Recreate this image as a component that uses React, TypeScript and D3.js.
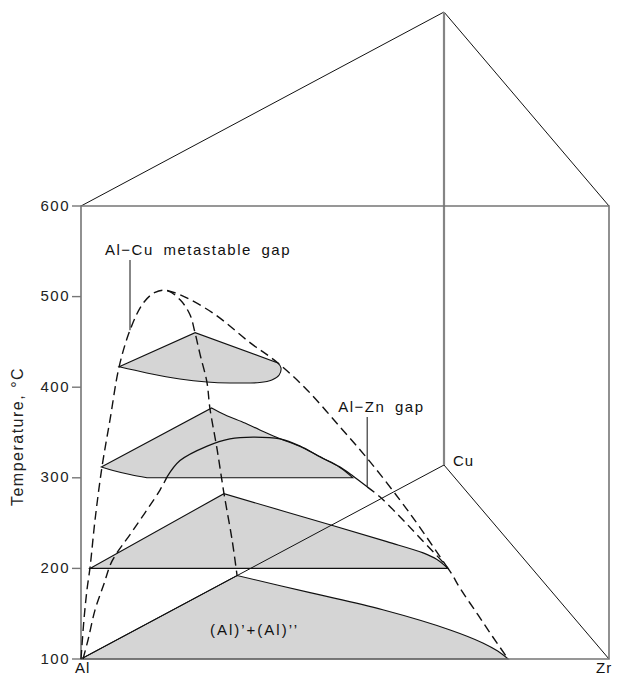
import React from "react";
import * as d3 from "d3";

// temperature ticks on the Al edge
const tempTicks = [100, 200, 300, 400, 500, 600];

// Al–Cu metastable gap, lying in the Al–Cu face: [x(Cu), T]
const alCuGap = [
  [0, 100], [0.008, 141], [0.0165, 173], [0.025, 196], [0.0386, 245], [0.058, 300],
  [0.08, 347], [0.105, 400], [0.135, 434], [0.171, 456], [0.204, 461], [0.237, 456],
  [0.273, 438], [0.3, 416], [0.314, 393], [0.328, 366], [0.347, 331], [0.355, 301],
  [0.375, 251], [0.394, 198], [0.416, 143], [0.43, 100],
];

// Al–Zn gap, lying in the Al–Zr face: [x(Zr), T]
const alZnLeft = [
  [0.0038, 100], [0.0133, 121], [0.0265, 154], [0.0436, 183], [0.0587, 208],
  [0.0985, 242], [0.1496, 286.5], [0.163, 301],
];
const alZnTop = [
  [0.163, 301], [0.1875, 319], [0.239, 335], [0.282, 343], [0.326, 345], [0.377, 343],
  [0.415, 335], [0.453, 323], [0.49, 312], [0.515, 302], [0.542, 290],
];
const alZnRight = [
  [0.542, 290], [0.566, 279], [0.604, 257], [0.642, 233.5], [0.695, 200],
  [0.718, 178], [0.752, 148.6], [0.78, 124.3], [0.809, 100],
];

// ternary critical line: [x(Zr), x(Cu), T]
const criticalLine = [
  [0, 0.237, 456], [0.029, 0.23, 453], [0.1125, 0.2, 439], [0.21, 0.16, 415],
  [0.287, 0.125, 400], [0.356, 0.105, 374.5], [0.4356, 0.08, 339], [0.506, 0.06, 305],
  [0.58, 0.035, 268], [0.628, 0.02, 241], [0.695, 0, 200],
];

// isothermal sections: [x(Zr), x(Cu)]
const s100Tie = [[0, 0], [0, 0.43]];
const s100Edge = [[0, 0.43], [0.1987, 0.342], [0.397, 0.254], [0.596, 0.15], [0.704, 0.083], [0.761, 0.041], [0.809, 0]];

const s200Tie = [[0.017, 0], [0.006, 0.385]];
const s200Edge = [[0.006, 0.385], [0.317, 0.225], [0.4845, 0.138], [0.593, 0.08], [0.6426, 0.046], [0.695, 0]];

const s300Tie = [[0, 0.056], [0, 0.36]];
const s300Edge = [[0, 0.36], [0.049, 0.325], [0.1167, 0.282], [0.169, 0.247], [0.239, 0.201], [0.303, 0.162], [0.379, 0.108], [0.454, 0.053], [0.515, 0]];
const s300Base = [[0.515, 0], [0.125, 0]];
const s300Foot = [[0.125, 0], [0.081, 0.017], [0.0345, 0.038], [0, 0.056]];

const s400Tie = [[0, 0.105], [0.023, 0.281], [0.287, 0.125]];
const s400Edge = [[0.287, 0.125], [0.31, 0.1], [0.332, 0.063], [0.336, 0.037], [0.322, 0.024], [0.267, 0.022], [0.22, 0.027], [0.158, 0.0425], [0.074, 0.0736], [0, 0.105]];

const sections = [
  { T: 100, segs: [["l", s100Tie], ["c", s100Edge]] },
  { T: 200, segs: [["l", s200Tie], ["c", s200Edge]] },
  { T: 300, segs: [["l", s300Tie], ["c", s300Edge], ["l", s300Base], ["c", s300Foot]] },
  { T: 400, segs: [["l", s400Tie], ["c", s400Edge]] },
];

const W = 628;
const H = 677;

const yT = d3.scaleLinear().domain([100, 600]).range([659, 206]);
const xZr = d3.scaleLinear().domain([0, 1]).range([81, 609]);
const cuDx = d3.scaleLinear().domain([0, 1]).range([0, 363]);
const cuDy = d3.scaleLinear().domain([0, 1]).range([0, -194]);

const proj = (z: number, c: number, T: number): [number, number] => [
  xZr(z) + cuDx(c),
  yT(T) + cuDy(c),
];

const lin = d3.line().curve(d3.curveLinear);
const smooth = d3.line().curve(d3.curveCatmullRom.alpha(0.5));

function sectionPath(T: number, segs: any[]) {
  let d = "";
  segs.forEach(([kind, pts], i) => {
    const p = (kind === "c" ? smooth : lin)(pts.map(([z, c]: number[]) => proj(z, c, T))) as string;
    d += i === 0 ? p : "L" + p.slice(1);
  });
  return d + "Z";
}

const font = "'Liberation Sans', Arial, sans-serif";
const dash = { fill: "none", stroke: "#111", strokeWidth: 1.4, strokeDasharray: "9 5" };
const solid = { fill: "none", stroke: "#111", strokeWidth: 1.1 };

export default function App() {
  const al100 = proj(0, 0, 100), al600 = proj(0, 0, 600);
  const zr100 = proj(1, 0, 100), zr600 = proj(1, 0, 600);
  const cu100 = proj(0, 1, 100), cu600 = proj(0, 1, 600);

  const gapPath = smooth(alCuGap.map(([c, T]) => proj(0, c, T))) as string;
  const znL = smooth(alZnLeft.map(([z, T]) => proj(z, 0, T))) as string;
  const znT = smooth(alZnTop.map(([z, T]) => proj(z, 0, T))) as string;
  const znR = smooth(alZnRight.map(([z, T]) => proj(z, 0, T))) as string;
  const crit = smooth(criticalLine.map(([z, c, T]) => proj(z, c, T))) as string;

  const cuLeader = proj(0, 0.135, 434);
  const znLeader = proj(0.542, 0, 290);
  const label = proj(0.159, 0.124, 100);

  const grey = "#767676";

  return (
    <svg width={W} height={H} style={{ position: "absolute", left: 0, top: 0, background: "#fff" }}>
      {/* shaded isothermal sections */}
      {sections.map((s) => (
        <path key={"f" + s.T} d={sectionPath(s.T, s.segs)} fill="#d5d5d5" stroke="none" />
      ))}
      {sections.map((s) => (
        <path key={"o" + s.T} d={sectionPath(s.T, s.segs)} {...solid} />
      ))}

      {/* prism frame */}
      <line x1={al100[0]} y1={al100[1]} x2={cu100[0]} y2={cu100[1]} stroke="#111" strokeWidth={1} />
      <line x1={cu100[0]} y1={cu100[1]} x2={zr100[0]} y2={zr100[1]} stroke="#111" strokeWidth={1} />
      <line x1={al600[0]} y1={al600[1]} x2={cu600[0]} y2={cu600[1]} stroke="#111" strokeWidth={1} />
      <line x1={cu600[0]} y1={cu600[1]} x2={zr600[0]} y2={zr600[1]} stroke="#111" strokeWidth={1} />
      <line x1={cu100[0]} y1={cu100[1]} x2={cu600[0]} y2={cu600[1]} stroke="#858585" strokeWidth={2.2} />
      <path
        d={`M${al100}L${zr100}L${zr600}L${al600}Z`}
        fill="none"
        stroke={grey}
        strokeWidth={1.6}
      />

      {/* temperature axis */}
      {tempTicks.map((t) => (
        <g key={t}>
          <line x1={al100[0] - 9} x2={al100[0]} y1={yT(t)} y2={yT(t)} stroke={grey} strokeWidth={1.4} />
          <text
            x={al100[0] - 11}
            y={yT(t) + 4.5}
            textAnchor="end"
            fontFamily={font}
            fontSize={15}
            letterSpacing={1.5}
            fill="#222"
          >
            {t}
          </text>
        </g>
      ))}
      <text
        transform={`translate(23,${(yT(100) + yT(600)) / 2 + 4}) rotate(-90)`}
        textAnchor="middle"
        fontFamily={font}
        fontSize={16}
        letterSpacing={1.5}
        fill="#222"
      >
        Temperature, °C
      </text>

      {/* miscibility gaps */}
      <path d={gapPath} {...dash} />
      <path d={crit} {...dash} />
      <path d={znL} {...dash} />
      <path d={znT} {...solid} strokeWidth={1.3} />
      <path d={znR} {...dash} />

      {/* annotations */}
      <line x1={cuLeader[0]} x2={cuLeader[0]} y1={260} y2={cuLeader[1]} stroke="#111" strokeWidth={1} />
      <text x={cuLeader[0] - 25} y={255} fontFamily={font} fontSize={15} letterSpacing={1.5} wordSpacing={4} fill="#111">
        Al−Cu metastable gap
      </text>
      <line x1={znLeader[0]} x2={znLeader[0]} y1={417} y2={znLeader[1]} stroke="#111" strokeWidth={1} />
      <text x={znLeader[0] - 29} y={412} fontFamily={font} fontSize={15} letterSpacing={1.5} wordSpacing={4} fill="#111">
        Al−Zn gap
      </text>
      <text x={label[0]} y={label[1]} fontFamily={font} fontSize={15} letterSpacing={2} fill="#111">
        (Al)’+(Al)’’
      </text>

      <text x={al100[0] - 6} y={673} fontFamily={font} fontSize={15} letterSpacing={1} fill="#111">Al</text>
      <text x={zr100[0] - 13} y={673} fontFamily={font} fontSize={15} letterSpacing={1} fill="#111">Zr</text>
      <text x={cu100[0] + 9} y={cu100[1] + 1} fontFamily={font} fontSize={15} letterSpacing={1} fill="#111">Cu</text>
    </svg>
  );
}
